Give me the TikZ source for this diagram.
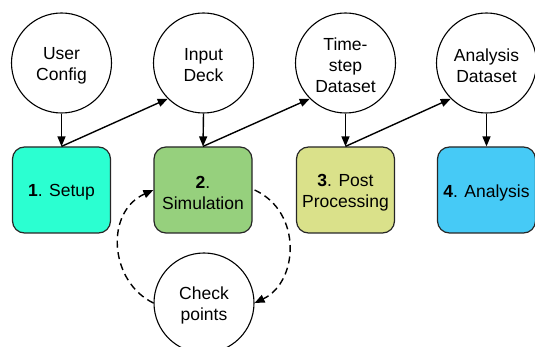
\documentclass[tikz,border=0pt]{standalone}
\usepackage{fontspec}
\setmainfont{Liberation Sans}
\usetikzlibrary{arrows.meta}
\definecolor{setupcol}{RGB}{43,255,209}
\definecolor{simcol}{RGB}{150,208,125}
\definecolor{postcol}{RGB}{218,225,138}
\definecolor{anacol}{RGB}{70,202,246}
\tikzset{
  caption/.style={align=center, inner sep=0pt, yshift=-2.5pt,
    font=\fontsize{17.5}{21}\selectfont},
  data/.style={circle, draw, line width=1.1pt, fill=white, minimum size=100pt, inner sep=0pt,
    label={[caption]center:#1}},
  stage/.style={rectangle, rounded corners=12pt, draw=black!85, line width=1.2pt,
    minimum width=98pt, minimum height=86pt, inner sep=0pt, label={[caption]center:#1}},
  flow/.style={line width=1.4pt, -{Triangle[length=10pt,width=8pt]}},
  loop/.style={line width=1.4pt, dash pattern=on 7pt off 4.5pt, -{Triangle[length=10pt,width=8pt]}}
}
\begin{document}
\begin{tikzpicture}[x=1pt, y=-1pt]
\useasboundingbox (0,0) rectangle (535,347);
% data products
\node[data={User\\Config}] (user) at (61.5,63) {};
\node[data={Input\\Deck}] (deck) at (203.5,63) {};
\node[data={Time-\\step\\Dataset}] (tstep) at (345.5,63) {};
\node[data={Analysis\\Dataset}] (adata) at (486.5,63) {};
% workflow stages
\node[stage={\textbf{1}. Setup}, fill=setupcol] (setup) at (61.5,190) {};
\node[stage={\textbf{2}.\\Simulation}, fill=simcol] (sim) at (203,190) {};
\node[stage={\textbf{3}. Post\\Processing}, fill=postcol] (post) at (345.5,190) {};
\node[stage={\textbf{4}. Analysis}, fill=anacol] (ana) at (486.5,190) {};
% checkpoint store
\node[data={Check\\points}] (ckpt) at (204,303) {};
% inputs into each stage
\draw[flow] (user.south) -- (setup.north);
\draw[flow] (deck.south) -- (sim.north);
\draw[flow] (tstep.south) -- (post.north);
\draw[flow] (adata.south) -- (ana.north);
% outputs of each stage
\draw[flow] (setup.north) -- (deck.225);
\draw[flow] (sim.north) -- (tstep.225);
\draw[flow] (post.north) -- (adata.225);
% checkpoint / restart loop
\draw[loop] ([xshift=2pt]sim.east) .. controls +(48,22) and +(44,-21) .. (ckpt.east);
\draw[loop] (ckpt.west) .. controls +(-44,-21) and +(-49,22) .. (sim.west);
\end{tikzpicture}
\end{document}
